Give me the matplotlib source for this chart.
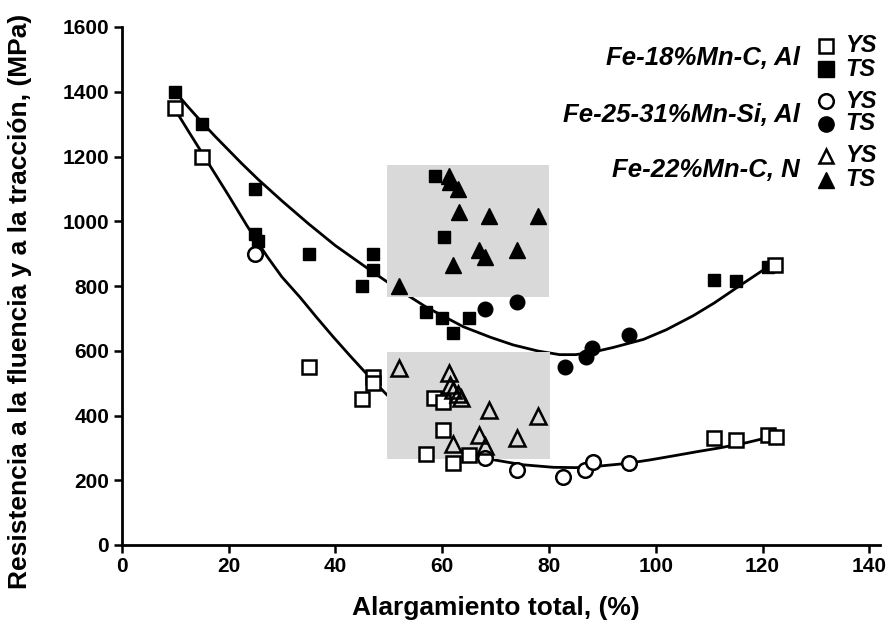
import numpy as np
import matplotlib.pyplot as plt
from matplotlib.lines import Line2D
from matplotlib.patches import Rectangle

plt.rcParams['font.family'] = ['Liberation Sans', 'DejaVu Sans']

# Fe-18%Mn-C, Al (cuadrados)
ts_sq_x = [10, 15, 25, 25, 25.5, 35, 47, 47, 45, 58.7, 60.4, 57, 60, 62, 65, 111, 115, 121]
ts_sq_y = [1400, 1300, 1100, 960, 940, 900, 900, 850, 800, 1140, 950, 720, 700, 655, 700, 820, 815, 860]
ys_sq_x = [10, 15, 35, 47, 47, 45, 57, 62, 65, 60.2, 58.4, 60.2, 111, 115, 121, 122.5, 122.3]
ys_sq_y = [1350, 1200, 550, 520, 500, 450, 280, 252, 278, 355, 453, 443, 330, 325, 340, 335, 865]

# Fe-25-31%Mn-Si, Al (circulos)
ts_ci_x = [68, 74, 83, 87, 88, 95]
ts_ci_y = [730, 750, 550, 580, 610, 650]
ys_ci_x = [25, 68, 74, 82.7, 86.7, 88.3, 95]
ys_ci_y = [900, 270, 232, 211, 232, 257, 252]

# Fe-22%Mn-C, N (triangulos)
ts_tr_x = [61.2, 61.5, 63, 63.2, 68.7, 78, 67, 68, 74, 62, 52]
ts_tr_y = [1140, 1120, 1100, 1030, 1015, 1015, 910, 890, 910, 865, 800]
ys_tr_x = [52, 61.2, 61.5, 62, 63, 63.5, 68.7, 78, 67, 74, 62, 68]
ys_tr_y = [546, 530, 495, 478, 465, 455, 417, 398, 340, 331, 312, 305]

# curvas de tendencia
ts_fit_x = [10, 12.5, 15, 17.5, 20, 22.5, 25.5, 30, 35, 40, 46, 51, 57, 64, 69, 73.3, 78, 82, 85, 88.3, 92, 97.7, 102, 107, 111, 115.2, 121.1]
ts_fit_y = [1400, 1352, 1306, 1262, 1220, 1178, 1130, 1063, 992, 925, 855, 798, 735, 674, 642, 618, 599, 588, 588, 596, 610, 635, 665, 708, 748, 795, 860]
ys_fit_x = [10, 12.5, 15, 17.5, 20, 23.5, 27.2, 30, 33.4, 36.5, 39.6, 43, 45.9, 49.3, 55, 60, 65, 69, 75, 80.8, 85, 88.3, 94.6, 99, 103.9, 108, 112, 117, 122]
ys_fit_y = [1345, 1278, 1212, 1146, 1080, 985, 892, 828, 765, 703, 643, 580, 528, 470, 375, 322, 288, 265, 248, 240, 239, 242, 252, 263, 277, 289, 300, 316, 336]

# zonas sombreadas (x0, x1, y0, y1)
zones = [(49.6, 80.0, 765, 1175), (49.7, 80.2, 265, 595)]

legend_labels = ["Fe-18%Mn-C, Al", "Fe-25-31%Mn-Si, Al", "Fe-22%Mn-C, N"]
legend_markers = ["s", "o", "^"]

fig = plt.figure(figsize=(8.91, 6.31), dpi=100)
ax = fig.add_axes([121.7 / 891, 86 / 631, (880 - 121.7) / 891, 518 / 631])

for x0, x1, y0, y1 in zones:
    ax.add_patch(Rectangle((x0, y0), x1 - x0, y1 - y0, facecolor="#d9d9d9", edgecolor="none", zorder=2))

ax.plot(ts_fit_x, ts_fit_y, color="black", lw=2.0, zorder=1, solid_capstyle="round")
ax.plot(ys_fit_x, ys_fit_y, color="black", lw=2.0, zorder=1, solid_capstyle="round")

ms = 10.5
ax.plot(ts_sq_x, ts_sq_y, "s", color="black", ms=ms - 1.5, zorder=3)
ax.plot(ys_sq_x, ys_sq_y, "s", mfc="white", mec="black", mew=1.8, ms=ms, zorder=3)
ax.plot(ts_ci_x, ts_ci_y, "o", color="black", ms=ms, zorder=3)
ax.plot(ys_ci_x, ys_ci_y, "o", mfc="white", mec="black", mew=1.8, ms=ms, zorder=3)
ax.plot(ts_tr_x, ts_tr_y, "^", color="black", ms=ms + 0.5, zorder=3)
ax.plot(ys_tr_x, ys_tr_y, "^", mfc="none", mec="black", mew=1.8, ms=ms + 0.5, zorder=3)

ax.set_xlim(0, 142)
ax.set_ylim(0, 1600)
ax.set_xticks(np.arange(0, 141, 20))
ax.set_yticks(np.arange(0, 1601, 200))
for s in ["top", "right"]:
    ax.spines[s].set_visible(False)
for s in ["left", "bottom"]:
    ax.spines[s].set_linewidth(2.0)
ax.tick_params(direction="out", length=6, width=1.8, labelsize=15, pad=3)
for lab in ax.get_xticklabels() + ax.get_yticklabels():
    lab.set_fontweight("bold")

ax.set_xlabel("Alargamiento total, (%)", fontsize=19, fontweight="bold")
ax.set_ylabel("Resistencia a la fluencia y a la tracción, (MPa)", fontsize=19, fontweight="bold")
ax.xaxis.set_label_coords(0.4936, -0.098)
ax.yaxis.set_label_coords(-0.118, 0.47)

# leyenda manual
rows_text = [58, 115, 170]
rows_ys = [46, 101, 156]
rows_ts = [69, 124, 180]
for lab, mk, yt, y1, y2 in zip(legend_labels, legend_markers, rows_text, rows_ys, rows_ts):
    fig.text(800 / 891, 1 - yt / 631, lab, ha="right", va="center", fontsize=18.5,
             fontweight="bold", style="italic")
    fig.add_artist(Line2D([826 / 891], [1 - y1 / 631], transform=fig.transFigure, marker=mk,
                          mfc="white", mec="black", mew=1.8, ms=10.5, ls="none"))
    fig.add_artist(Line2D([826 / 891], [1 - y2 / 631], transform=fig.transFigure, marker=mk,
                          color="black", ms=11, ls="none"))
    fig.text(845 / 891, 1 - y1 / 631, "YS", ha="left", va="center", fontsize=17,
             fontweight="bold", style="italic")
    fig.text(845 / 891, 1 - y2 / 631, "TS", ha="left", va="center", fontsize=17,
             fontweight="bold", style="italic")

fig.savefig("out.png", dpi=100)
